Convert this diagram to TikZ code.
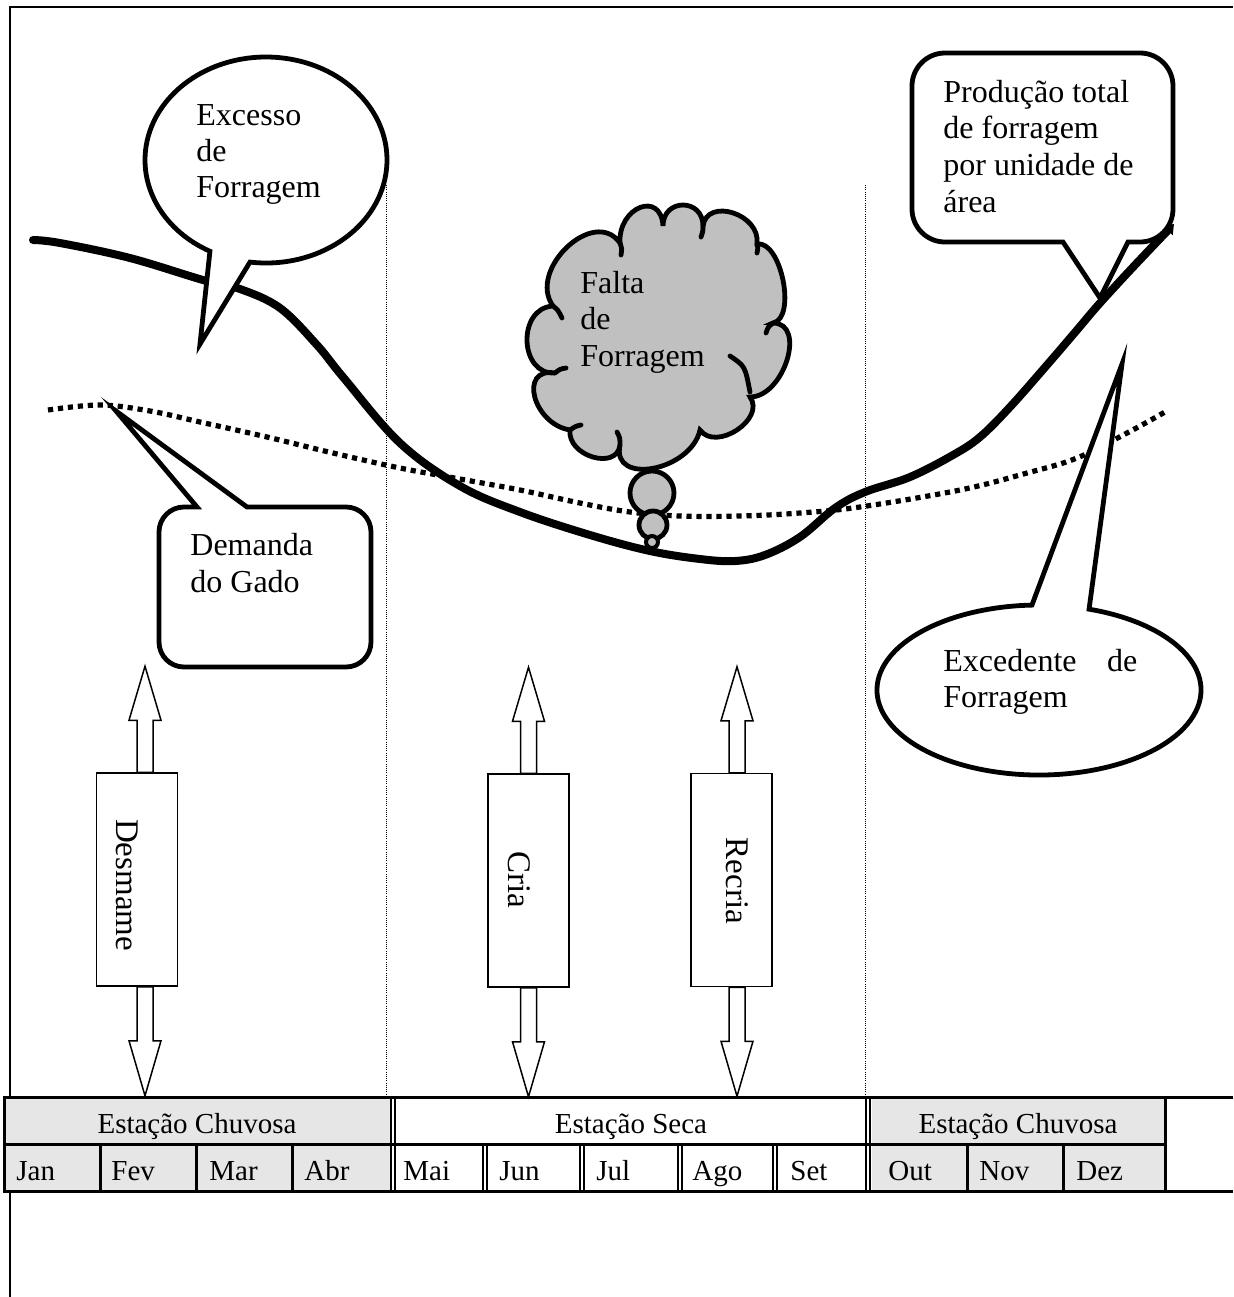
\documentclass[tikz,border=0pt]{standalone}
\usepackage{fontspec}
\setmainfont{Liberation Serif}
\usetikzlibrary{arrows.meta,calc}

\definecolor{rainygray}{RGB}{230,230,230}
\definecolor{cloudgray}{RGB}{192,192,192}

% pair of hollow block arrows leaving a stage box upwards and downwards
\newcommand{\stagearrows}[2]{%
  \draw[blockarrow] ([xshift=#2]#1.north) ++(-8,0) -- ++(0,-52) -- ++(-8,0)
    -- ++(16,-54) -- ++(16,54) -- ++(-8,0) -- ++(0,52) -- cycle;
  \draw[blockarrow] ([xshift=#2]#1.south) ++(-8,0) -- ++(0,54) -- ++(-8,0)
    -- ++(16,55) -- ++(16,-55) -- ++(-8,0) -- ++(0,-54) -- cycle;}

\begin{document}
\begin{tikzpicture}[x=0.5pt,y=-0.5pt,
  frameline/.style={line width=1pt},
  tabrule/.style={line width=1.5pt},
  tabdouble/.style={line width=0.75pt},
  seasonline/.style={line width=0.5pt, dash pattern=on 0.5pt off 0.6pt},
  supplycurve/.style={line width=4pt, line cap=round},
  demandcurve/.style={line width=2.6pt, dash pattern=on 2.6pt off 2.4pt},
  callout/.style={draw, line width=2.4pt, fill=white, line join=miter, miter limit=20},
  cloudline/.style={draw, line width=2.4pt, fill=cloudgray},
  stagebox/.style={draw, line width=0.75pt, fill=white, minimum width=40.5pt,
    minimum height=106.5pt, inner sep=0pt},
  blockarrow/.style={draw, line width=0.75pt, fill=white, line join=miter},
  stagetext/.style={font=\fontsize{16.5}{18}\selectfont, rotate=-90, inner sep=0pt},
  bubbletext/.style={font=\fontsize{16}{18}\selectfont, inner sep=0pt, anchor=base west},
  headtext/.style={font=\fontsize{14.5}{16}\selectfont, inner sep=0pt, anchor=base},
  monthtext/.style={font=\fontsize{14.5}{16}\selectfont, inner sep=0pt, anchor=base west}]

\useasboundingbox (0,0) rectangle (1233,1297);

% outer frame
\draw[frameline] (9,7) -- (1233,7);
\draw[frameline] (10,7) -- (10,1097);
\draw[frameline] (10,1191) -- (10,1297);

% season boundaries
\draw[seasonline] (386,185) -- (386,1096);
\draw[seasonline] (865,185) -- (865,1096);

% forage production per unit area
\draw[supplycurve, -{Triangle[length=4.5pt,width=6.5pt]}] plot[smooth, tension=0.6] coordinates {
  (33,240) (60,243) (130,258) (203,280) (240,289) (280,308) (317,345) (343,377)
  (400,443) (460,486) (520,512) (590,535) (650,551) (700,559) (735,561) (765,555)
  (800,537) (835,508) (865,492) (910,477) (953,455) (980,437) (1010,407) (1047,365)
  (1077,330) (1100,303) (1135,265) (1174,224)};

% herd demand
\draw[demandcurve] plot[smooth, tension=0.6] coordinates {
  (48,410) (100,405) (150,411) (200,422) (267,437) (333,453) (400,468) (460,479)
  (520,490) (580,503) (630,512) (680,516) (740,516) (800,513) (860,507) (960,490)
  (1027,473) (1077,458) (1127,433) (1165,412)};

% callout: Excesso de Forragem
\coordinate (excC) at (266,160);
\draw[callout] (excC) ++(97.6:121 and 103)
  arc[start angle=97.6, end angle=-242.4, x radius=121, y radius=103]
  -- (200,344) -- cycle;
\node[bubbletext] (exc1) at (196,125) {Excesso};
\node[bubbletext] (exc2) at (196,161) {de};
\node[bubbletext] (exc3) at (196,197) {Forragem};

% callout: Produção total de forragem por unidade de área
\draw[callout] (1128,242) -- (1140,242) arc[start angle=90, end angle=0, radius=33]
  -- (1173,86) arc[start angle=0, end angle=-90, radius=33]
  -- (945,53) arc[start angle=-90, end angle=-180, radius=33]
  -- (912,209) arc[start angle=180, end angle=90, radius=33]
  -- (1063,242) -- (1100,298) -- cycle;
\node[bubbletext] (prod1) at (943,102) {Produção total};
\node[bubbletext] (prod2) at (943,138) {de forragem};
\node[bubbletext] (prod3) at (943,175) {por unidade de};
\node[bubbletext] (prod4) at (943,212) {área};

% callout: Demanda do Gado
\draw[callout] (247,507) -- (346,507) arc[start angle=-90, end angle=0, radius=25]
  -- (371,642) arc[start angle=0, end angle=90, radius=25]
  -- (184,667) arc[start angle=90, end angle=180, radius=25]
  -- (159,532) arc[start angle=180, end angle=270, radius=25]
  -- (197,507) -- (116,411) -- cycle;
\node[bubbletext] (dem1) at (190,555) {Demanda};
\node[bubbletext] (dem2) at (190,592) {do Gado};

% callout: Excedente de Forragem
\coordinate (exdC) at (1039,690);
\draw[callout] (exdC) ++(-72:162 and 85)
  arc[start angle=-72, end angle=267.5, x radius=162, y radius=85]
  -- (1122,364) -- cycle;
\node[bubbletext] (exd1) at (943,671) {\makebox[97pt][s]{Excedente de}};
\node[bubbletext] (exd2) at (943,707) {Forragem};

% thought cloud: Falta de Forragem
\draw[cloudline] (553,306) .. controls (527,270) and (594,206) .. (620,243)
  .. controls (618,207) and (661,190) .. (663,226)
  .. controls (663,198) and (703,198) .. (703,226)
  .. controls (707,197) and (761,214) .. (757,244)
  .. controls (781,240) and (797,318) .. (773,323)
  .. controls (807,323) and (784,397) .. (750,397)
  .. controls (766,419) and (716,452) .. (700,430)
  .. controls (691,471) and (611,486) .. (620,445)
  .. controls (617,471) and (567,456) .. (570,430)
  .. controls (533,424) and (518,367) .. (555,373)
  .. controls (519,375) and (517,308) .. (553,306) -- cycle;
\begin{scope}[line width=2.4pt, line cap=round]
  \draw (555,373) .. controls (560,369) .. (566,368);
  \draw (553,306) .. controls (558,310) .. (562,318);
  \draw (620,243) .. controls (622,249) .. (621,255);
  \draw (703,226) .. controls (703,231) .. (701,237);
  \draw (757,244) .. controls (758,248) .. (757,253);
  \draw (773,323) .. controls (768,327) .. (766,333);
  \draw (730,356) .. controls (745,366) .. (750,392);
  \draw (620,445) .. controls (620,438) .. (617,432);
  \draw (570,430) .. controls (576,426) .. (581,425);
\end{scope}
\draw[cloudline] (652,493) circle[radius=22];
\draw[cloudline] (653,525) circle[radius=14];
\draw[cloudline, line width=2pt] (652,542) circle[radius=6];
\node[bubbletext] (falta1) at (580,293) {Falta};
\node[bubbletext] (falta2) at (580,329) {de};
\node[bubbletext] (falta3) at (580,366) {Forragem};

% management stages with their double arrows
\node[stagebox] (desmame) at (137,879.5) {};
\node[stagebox] (cria) at (528.5,880.5) {};
\node[stagebox] (recria) at (731.5,880) {};
\stagearrows{desmame}{4pt}
\stagearrows{cria}{0pt}
\stagearrows{recria}{2.75pt}
\node[stagetext] (desmameT) at (127,885) {Desmame};
\node[stagetext] (criaT) at (519,880) {Cria};
\node[stagetext] (recriaT) at (737,881) {Recria};

% calendar table
\fill[rainygray] (4,1097) rectangle (391,1191);
\fill[rainygray] (872,1097) rectangle (1165,1191);
\draw[tabrule] (3,1097) -- (1233,1097);
\draw[tabrule] (4,1144) -- (1165,1144);
\draw[tabrule] (3,1191) -- (1233,1191);
\draw[tabrule] (4,1097) -- (4,1191);
\draw[tabrule] (1165,1097) -- (1165,1191);
\foreach \xx in {100,196,292,967,1063}
  \draw[tabrule] (\xx,1144) -- (\xx,1191);
\foreach \xx in {391,395,866,870}
  \draw[tabdouble] (\xx,1097) -- (\xx,1191);
\foreach \xx in {483,487,580,584,678,682,773,777}
  \draw[tabdouble] (\xx,1144) -- (\xx,1191);

\node[headtext] (rain1) at (197,1133) {Estação Chuvosa};
\node[headtext] (dry) at (631,1133) {Estação Seca};
\node[headtext] (rain2) at (1018,1133) {Estação Chuvosa};

\node[monthtext] (jan) at (16,1180) {Jan};
\node[monthtext] (fev) at (111,1180) {Fev};
\node[monthtext] (mar) at (209,1180) {Mar};
\node[monthtext] (abr) at (304,1180) {Abr};
\node[monthtext] (mai) at (403,1180) {Mai};
\node[monthtext] (jun) at (499,1180) {Jun};
\node[monthtext] (jul) at (596,1180) {Jul};
\node[monthtext] (ago) at (692,1180) {Ago};
\node[monthtext] (set) at (790,1180) {Set};
\node[monthtext] (out) at (888,1180) {Out};
\node[monthtext] (nov) at (979,1180) {Nov};
\node[monthtext] (dez) at (1076,1180) {Dez};
\end{tikzpicture}
\end{document}
